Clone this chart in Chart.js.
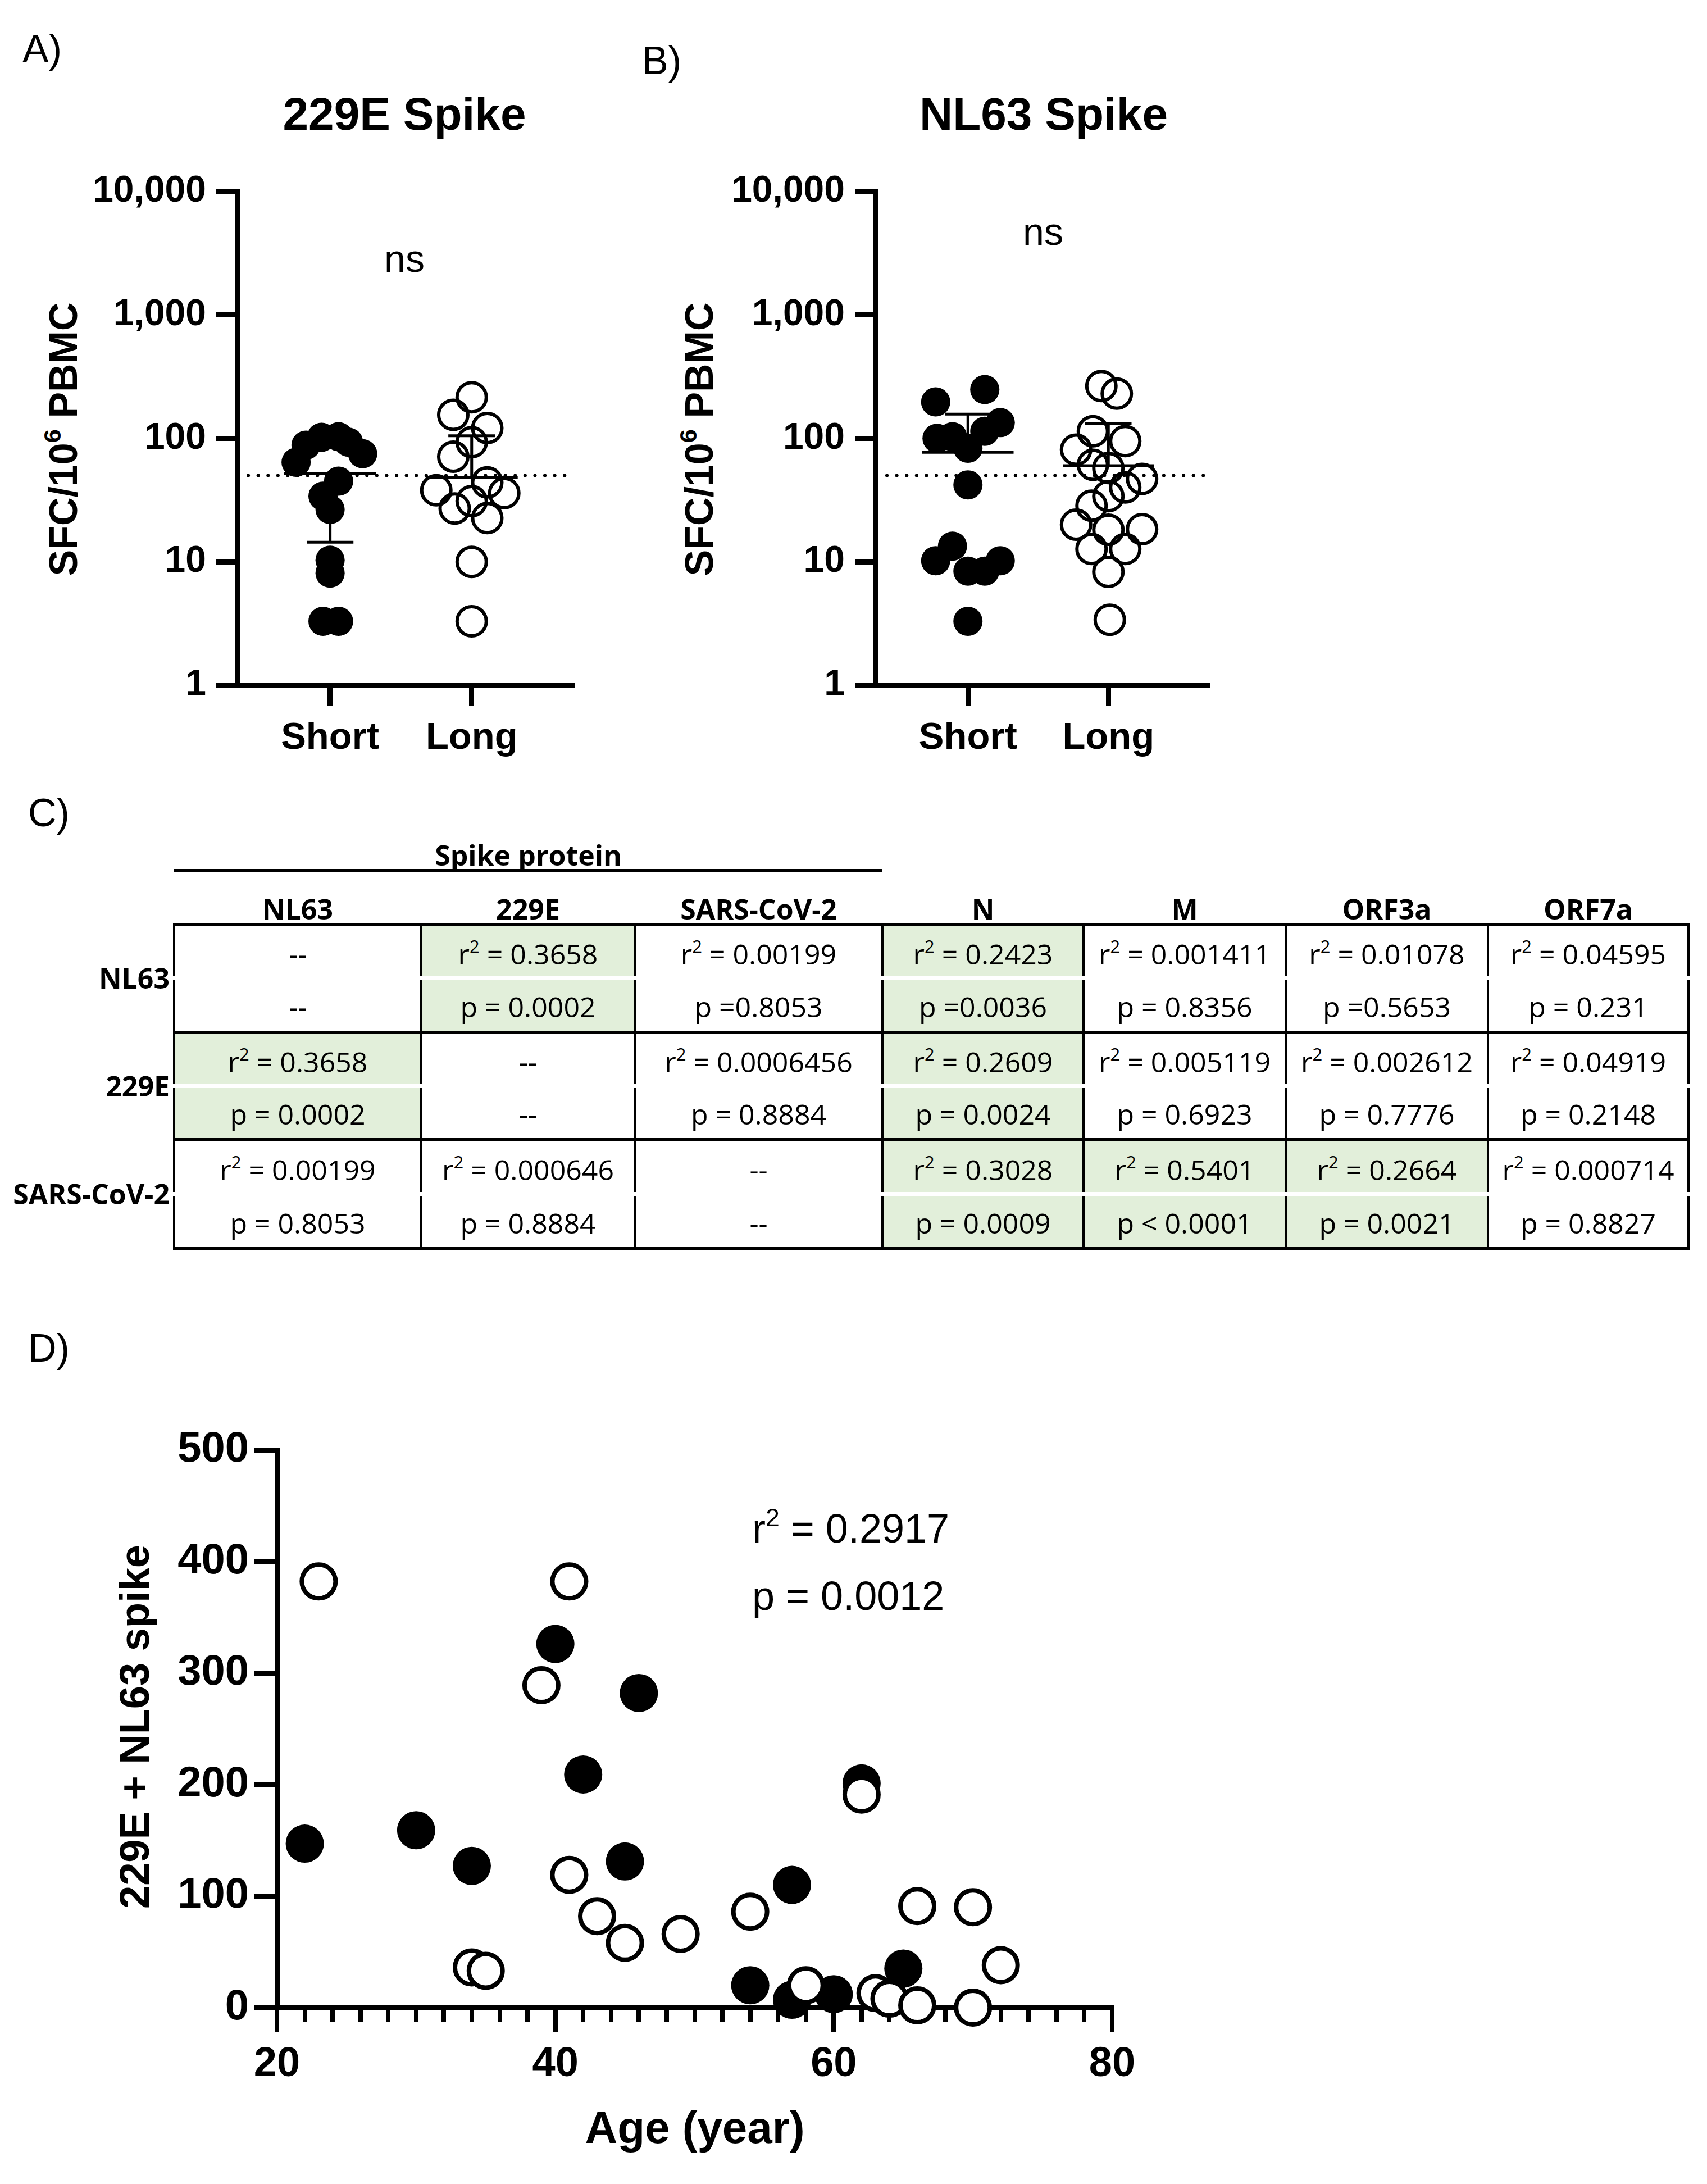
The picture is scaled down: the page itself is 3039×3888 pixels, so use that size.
<!DOCTYPE html>
<html>
<head>
<meta charset="utf-8">
<script src="https://cdn.jsdelivr.net/npm/chart.js@4.4.0/dist/chart.umd.min.js"></script>
<style>
  html, body { margin: 0; padding: 0; background: #fff; }
  body { width: 3039px; height: 3888px; position: relative; overflow: hidden;
         font-family: "Liberation Sans", Arial, sans-serif; color: #000; }
  canvas { position: absolute; }
  .t { position: absolute; line-height: 1; white-space: nowrap; }
  .c { transform: translate(-50%, -50%); }
  .l { transform: translate(0, -50%); }
  .rot { transform: translate(-50%, -50%) rotate(-90deg); }
  .b { font-weight: bold; }
  sup { font-size: 0.62em; line-height: 0; position: relative; top: -0.1em; }
  .tbl { font-family: "Open Sans", "DejaVu Sans", sans-serif; font-size: 50px; }
</style>
</head>
<body>

<div class="t l" style="left:40px; top:87px; font-size:70px;">A)</div>
<div class="t l" style="left:1143px; top:108px; font-size:70px;">B)</div>
<div class="t l" style="left:50px; top:1447px; font-size:70px;">C)</div>
<div class="t l" style="left:50px; top:2400px; font-size:70px;">D)</div>

<div class="t c b" style="left:720px; top:203px; font-size:82px;">229E Spike</div>
<div class="t c b" style="left:1858px; top:203px; font-size:82px;">NL63 Spike</div>
<div class="t c" style="left:720px; top:460px; font-size:68px;">ns</div>
<div class="t c" style="left:1857px; top:412px; font-size:68px;">ns</div>
<div class="t rot b" style="left:113px; top:782px; font-size:70px;">SFC/10<sup>6</sup> PBMC</div>
<div class="t rot b" style="left:1245px; top:782px; font-size:70px;">SFC/10<sup>6</sup> PBMC</div>

<canvas id="chartA" width="950" height="1117" style="left:150px; top:283px;"></canvas>
<canvas id="chartB" width="950" height="1117" style="left:1286px; top:283px;"></canvas>

<canvas id="chartD" width="1780" height="1250" style="left:300px; top:2500px;"></canvas>
<div class="t rot b" style="left:240px; top:3074px; font-size:74px;">229E + NL63 spike</div>
<div class="t c b" style="left:1237px; top:3788px; font-size:80px;">Age (year)</div>
<div class="t l" style="left:1339px; top:2721px; font-size:72px;">r<sup>2</sup> = 0.2917</div>
<div class="t l" style="left:1339px; top:2841px; font-size:72px;">p = 0.0012</div>

<script>
// ---------- data ----------
// panels A and B: SFC/10^6 PBMC, short vs long interval
const groups = ["Short", "Long"];
const decadeTicks = [1, 10, 100, 1000, 10000];
const detectionLimit = 50;

// 229E spike
const e229Short = [64, 88, 102, 103, 93, 75, 45, 34, 26.5, 10.3, 8.1, 3.3, 3.3];
const e229ShortJit = [-0.24, -0.17, -0.06, 0.06, 0.13, 0.23, 0.06, -0.05, 0, 0, 0, -0.05, 0.06];
const e229Long = [215, 155, 121, 93, 71, 44, 38, 36, 31, 27, 22.6, 10, 3.3];
const e229LongJit = [0, -0.13, 0.11, 0, -0.13, 0.11, -0.25, 0.23, 0, -0.12, 0.11, 0, 0];
const e229Mean = [51.7, 48];
const e229Low = [14.4, null];
const e229High = [null, 105];

// NL63 spike
const nl63Short = [197, 248, 134, 100, 103, 114, 83, 42, 13.4, 10.2, 8.4, 8.4, 10.2, 3.3];
const nl63ShortJit = [-0.23, 0.12, 0.23, -0.22, -0.11, 0.12, 0, 0, -0.11, -0.23, 0, 0.12, 0.23, 0];
const nl63Long = [265, 230, 114, 95, 81, 61, 57.5, 47, 40, 34, 28.5, 20, 18.4, 18.2, 12.7, 12.7, 8.3, 3.4];
const nl63LongJit = [-0.05, 0.06, -0.11, 0.12, -0.23, -0.11, 0, 0.24, 0.12, 0, -0.12, -0.23, 0.24, 0, -0.12, 0.12, 0, 0.01];
const nl63Mean = [77, 60];
const nl63Low = [null, null];
const nl63High = [157, 132];

// panel C: correlation table
const rowNames = ["NL63", "229E", "SARS-CoV-2"];
const colNames = ["NL63", "229E", "SARS-CoV-2", "N", "M", "ORF3a", "ORF7a"];
const spikeCols = 3;
const r2Text = [
  [null, "0.3658", "0.00199", "0.2423", "0.001411", "0.01078", "0.04595"],
  ["0.3658", null, "0.0006456", "0.2609", "0.005119", "0.002612", "0.04919"],
  ["0.00199", "0.000646", null, "0.3028", "0.5401", "0.2664", "0.000714"]
];
const pText = [
  [null, "p = 0.0002", "p =0.8053", "p =0.0036", "p = 0.8356", "p =0.5653", "p = 0.231"],
  ["p = 0.0002", null, "p = 0.8884", "p = 0.0024", "p = 0.6923", "p = 0.7776", "p = 0.2148"],
  ["p = 0.8053", "p = 0.8884", null, "p = 0.0009", "p < 0.0001", "p = 0.0021", "p = 0.8827"]
];
const significant = [
  [0, 1, 0, 1, 0, 0, 0],
  [1, 0, 0, 1, 0, 0, 0],
  [0, 0, 0, 1, 1, 1, 0]
];

// panel D: age vs 229E + NL63 spike
const filledAge = [22, 30, 34, 40, 42, 45, 46, 57, 54, 57, 60, 62, 65];
const filledSpike = [147, 159, 127, 326, 209, 131, 282, 110, 20, 7, 12, 201, 35];
const openAge = [23, 41, 39, 41, 43, 45, 49, 34, 35, 54, 58, 62, 63, 64, 66, 66, 70, 70, 72];
const openSpike = [382, 382, 289, 119, 82, 58, 66, 36, 33, 86, 20, 191, 13, 8, 91, 2, 90, 0, 38];
const ageTicks = [20, 40, 60, 80];

// ---------- helpers ----------
const FONT = "'Liberation Sans', Arial, sans-serif";
Chart.defaults.font.family = FONT;
Chart.defaults.color = "#000";

const pts = (vals, xs) => vals.map((v, i) => ({ x: xs[i], y: v }));

// mean line + error whiskers, placed through the chart scales
const summaryPlugin = (means, lows, highs) => ({
  id: "summary",
  afterDatasetsDraw(chart) {
    const xs = chart.scales.x, ys = chart.scales.y, ctx = chart.ctx;
    ctx.save();
    ctx.strokeStyle = "#000";
    ctx.lineWidth = 5;
    means.forEach((m, i) => {
      const xc = xs.getPixelForValue(i);
      const hw = xs.getPixelForValue(i + 0.325) - xc;
      const cw = xs.getPixelForValue(i + 0.165) - xc;
      const ym = ys.getPixelForValue(m);
      ctx.beginPath();
      ctx.moveTo(xc - hw, ym); ctx.lineTo(xc + hw, ym);
      [lows[i], highs[i]].forEach(e => {
        if (e == null) return;
        const ye = ys.getPixelForValue(e);
        ctx.moveTo(xc, ym); ctx.lineTo(xc, ye);
        ctx.moveTo(xc - cw, ye); ctx.lineTo(xc + cw, ye);
      });
      ctx.stroke();
    });
    ctx.restore();
  }
});

// dotted limit line
const limitPlugin = {
  id: "limit",
  afterDatasetsDraw(chart) {
    const ys = chart.scales.y, a = chart.chartArea, ctx = chart.ctx;
    const y = ys.getPixelForValue(detectionLimit);
    ctx.save();
    ctx.strokeStyle = "#000";
    ctx.lineWidth = 6;
    ctx.lineCap = "round";
    ctx.setLineDash([0.1, 17.5]);
    ctx.beginPath();
    ctx.moveTo(a.left + 20, y); ctx.lineTo(a.right, y);
    ctx.stroke();
    ctx.restore();
  }
};

const axisGrid = (len, w) => ({
  display: true, drawOnChartArea: false, drawTicks: true,
  tickLength: len, lineWidth: w, color: "#000"
});
const axisBorder = (w) => ({ display: true, color: "#000", width: w });

function spikeChart(id, sv, sj, lv, lj, means, lows, highs, yWidth, padRight) {
  return new Chart(document.getElementById(id), {
    type: "scatter",
    data: {
      datasets: [
        {
          data: pts(sv, sj.map(j => 0 + j)),
          pointRadius: 26, pointBackgroundColor: "#000", pointBorderWidth: 0,
          clip: false
        },
        {
          data: pts(lv, lj.map(j => 1 + j)),
          pointRadius: 26, pointBackgroundColor: "rgba(0,0,0,0)",
          pointBorderColor: "#000", pointBorderWidth: 6,
          clip: false
        }
      ]
    },
    options: {
      responsive: false, animation: false, devicePixelRatio: 1, events: [],
      layout: { padding: { top: 0, right: padRight, left: 0, bottom: 0 } },
      plugins: { legend: { display: false }, tooltip: { enabled: false } },
      scales: {
        x: {
          type: "linear", min: -0.657, max: 1.707,
          afterBuildTicks: s => { s.ticks = groups.map((g, i) => ({ value: i })); },
          afterFit: s => { s.height = 180; },
          grid: axisGrid(36, 9), border: axisBorder(9),
          ticks: {
            padding: 18, maxRotation: 0, autoSkip: false,
            font: { size: 67, weight: "bold" },
            callback: v => groups[v] ?? ""
          }
        },
        y: {
          type: "logarithmic", min: 1, max: 10000,
          afterBuildTicks: s => { s.ticks = decadeTicks.map(v => ({ value: v })); },
          afterFit: s => { s.width = yWidth; },
          grid: axisGrid(37, 9), border: axisBorder(9),
          ticks: {
            padding: 18, autoSkip: false,
            font: { size: 66, weight: "bold" },
            callback: v => Number(v).toLocaleString("en-US")
          }
        }
      }
    },
    plugins: [limitPlugin, summaryPlugin(means, lows, highs)]
  });
}

spikeChart("chartA", e229Short, e229ShortJit, e229Long, e229LongJit, e229Mean, e229Low, e229High, 272, 82);
spikeChart("chartB", nl63Short, nl63ShortJit, nl63Long, nl63LongJit, nl63Mean, nl63Low, nl63High, 273, 86);

// ---------- panel D ----------
new Chart(document.getElementById("chartD"), {
  type: "scatter",
  data: {
    datasets: [
      {
        data: pts(openSpike, openAge),
        pointRadius: 30, pointBackgroundColor: "#fff",
        pointBorderColor: "#000", pointBorderWidth: 8, clip: false
      },
      {
        data: pts(filledSpike, filledAge),
        pointRadius: 34, pointBackgroundColor: "#000", pointBorderWidth: 0, clip: false
      }
    ]
  },
  options: {
    responsive: false, animation: false, devicePixelRatio: 1, events: [],
    layout: { padding: { top: 81, right: 100, left: 0, bottom: 0 } },
    plugins: { legend: { display: false }, tooltip: { enabled: false } },
    scales: {
      x: {
        type: "linear", min: 20, max: 80, weight: 1,
        afterBuildTicks: s => { s.ticks = ageTicks.map(v => ({ value: v })); },
        afterFit: s => { s.height = 176; },
        grid: axisGrid(43, 8), border: axisBorder(9),
        ticks: { padding: 14, maxRotation: 0, font: { size: 74, weight: "bold" } }
      },
      xMinor: {
        type: "linear", axis: "x", position: "bottom", min: 20, max: 80, weight: 0,
        ticks: { display: false, stepSize: 2 },
        afterFit: s => { s.height = 0; },
        grid: axisGrid(25, 8), border: { display: false }
      },
      y: {
        type: "linear", min: 0, max: 500,
        ticks: { stepSize: 100, padding: 9, font: { size: 76, weight: "bold" } },
        afterFit: s => { s.width = 193; },
        grid: axisGrid(41, 9), border: axisBorder(9)
      }
    }
  }
});

// ---------- panel C: table ----------
const colEdges = [310, 750, 1130, 1571, 1929, 2289, 2649, 3006];
const rowEdges = [1645, 1837, 2028, 2222];

function box(css, html) {
  const d = document.createElement("div");
  d.style.position = "absolute";
  Object.assign(d.style, css);
  if (html != null) d.innerHTML = html;
  document.body.appendChild(d);
  return d;
}
function label(x, y, html, bold, align) {
  const d = box({ left: x + "px", top: y + "px", lineHeight: "1", whiteSpace: "nowrap",
    transform: align === "right" ? "translate(-100%,-50%)" : "translate(-50%,-50%)",
    fontWeight: bold ? "bold" : "normal" }, html);
  d.className = "tbl";
}

// spike protein group header
label((colEdges[0] + colEdges[spikeCols]) / 2, 1522, "Spike protein", true);
box({ left: colEdges[0] + "px", top: "1547px", width: (colEdges[spikeCols] - colEdges[0]) + "px",
  height: "5px", background: "#000" });
colNames.forEach((c, j) => label((colEdges[j] + colEdges[j + 1]) / 2, 1618, c, true));

rowNames.forEach((r, i) => {
  const top = rowEdges[i], bot = rowEdges[i + 1], mid = (top + bot) / 2;
  colNames.forEach((c, j) => {
    if (significant[i][j]) {
      box({ left: colEdges[j] + "px", top: top + "px", width: (colEdges[j + 1] - colEdges[j]) + "px",
        height: (bot - top) + "px", background: "#E2EFDA" });
    }
  });
  colEdges.forEach(x => box({ left: (x - 2) + "px", top: top + "px", width: "4px",
    height: (bot - top) + "px", background: "#000" }));
  // white split between r and p lines
  box({ left: (colEdges[0] - 3) + "px", top: (mid - 3) + "px",
    width: (colEdges[colEdges.length - 1] - colEdges[0] + 6) + "px", height: "7px", background: "#fff" });
  label(302, mid, r, true, "right");
  colNames.forEach((c, j) => {
    const cx = (colEdges[j] + colEdges[j + 1]) / 2;
    const rt = r2Text[i][j] == null ? "--" : "r<sup>2</sup> = " + r2Text[i][j];
    const pt = pText[i][j] == null ? "--" : pText[i][j];
    label(cx, (top + mid) / 2 + 5, rt, false);
    label(cx, (mid + bot) / 2 + 3, pt, false);
  });
});
rowEdges.forEach(y => box({ left: (colEdges[0] - 2) + "px", top: (y - 2) + "px",
  width: (colEdges[colEdges.length - 1] - colEdges[0] + 4) + "px", height: "5px", background: "#000" }));
</script>
</body>
</html>
